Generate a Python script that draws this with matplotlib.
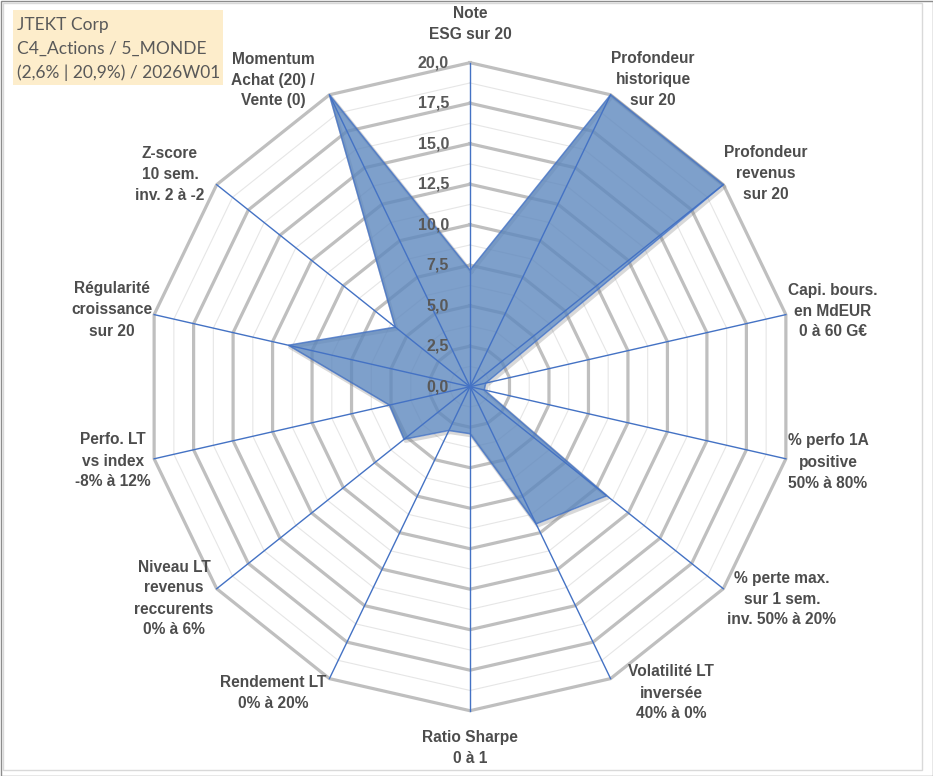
import numpy as np
import matplotlib
matplotlib.use('Agg')
import matplotlib.pyplot as plt
from matplotlib.patches import Polygon, Rectangle

# ---------------- data ----------------
categories = [
    "Note\nESG sur 20",
    "Profondeur\nhistorique\nsur 20",
    "Profondeur\nrevenus\nsur 20",
    "Capi. bours.\nen MdEUR\n0 à 60 G€",
    "% perfo 1A\npositive\n50% à 80%",
    "% perte max.\nsur 1 sem.\ninv. 50% à 20%",
    "Volatilité LT\ninversée\n40% à 0%",
    "Ratio Sharpe\n0 à 1",
    "Rendement LT\n0% à 20%",
    "Niveau LT\nrevenus\nreccurents\n0% à 6%",
    "Perfo. LT\nvs index\n-8% à 12%",
    "Régularité\ncroissance\nsur 20",
    "Z-score\n10 sem.\ninv. 2 à -2",
    "Momentum\nAchat (20) /\nVente (0)",
]
values = [7.2, 20.0, 20.0, 1.0, 0.9, 10.8, 9.4, 2.9, 3.0, 5.2, 5.1, 11.5, 5.9, 20.0]
ticks = [0.0, 2.5, 5.0, 7.5, 10.0, 12.5, 15.0, 17.5, 20.0]
tick_labels = ["0,0", "2,5", "5,0", "7,5", "10,0", "12,5", "15,0", "17,5", "20,0"]
title_lines = ["JTEKT Corp", "C4_Actions / 5_MONDE", "(2,6% | 20,9%) / 2026W01"]

# ---------------- layout (pixels) ----------------
W, H = 933, 776
CX, CY, RPX = 470.0, 386.7, 324.0   # centre and radius of the 20 ring in pixels
RMAX = 20.0
s = RMAX / RPX
# label centres in pixel coords (style/layout only)
label_px = [(470, 24), (653, 79), (766, 173.5), (833, 311), (828, 462), (782, 599),
            (671, 693), (470, 748), (273, 693), (174, 598.5), (113, 461), (112, 310),
            (170, 174), (273, 80)]

fig = plt.figure(figsize=(W / 100, H / 100), dpi=100)
ax = fig.add_axes([0, 0, 1, 1])
ax.set_xlim(-CX * s, (W - CX) * s)
ax.set_ylim(-(H - CY) * s, CY * s)
ax.set_aspect('equal')
ax.axis('off')

n = len(categories)
theta = np.arange(n) * 2 * np.pi / n
sx, cy_ = np.sin(theta), np.cos(theta)

def ring(r):
    xs = np.append(r * sx, r * sx[0])
    ys = np.append(r * cy_, r * cy_[0])
    return xs, ys

# minor rings
for r in np.arange(1.25, RMAX, 2.5):
    xs, ys = ring(r)
    ax.plot(xs, ys, color='#E6E6E6', lw=0.8, zorder=1)
# major rings
for r in ticks[1:]:
    xs, ys = ring(r)
    ax.plot(xs, ys, color='#BFBFBF', lw=2.3, zorder=1.5, solid_joinstyle='miter')

v = np.array(values)
pts = np.column_stack([v * sx, v * cy_])
# soft shadow along the outline
sh = np.vstack([pts, pts[:1]]) + np.array([1.5 * s, -2.0 * s])
ax.plot(sh[:, 0], sh[:, 1], color='#808080', alpha=0.3, lw=2.5, zorder=2)
ax.add_patch(Polygon(pts, closed=True, facecolor='#5E88BE', alpha=0.8,
                     edgecolor='#4472C4', lw=1.1, zorder=2.2))

# spokes
for i in range(n):
    ax.plot([0, RMAX * sx[i]], [0, RMAX * cy_[i]], color='#4472C4', lw=1.0, zorder=3)

# tick labels
for t, tl in zip(ticks, tick_labels):
    ax.text(-21 * s, t, tl, ha='right', va='center', fontsize=11.5, fontweight='bold',
            family='Liberation Sans', color='#595959', zorder=4)

# category labels
for lab, (px, py) in zip(categories, label_px):
    ax.text((px - CX) * s, (CY - py) * s, lab, ha='center', va='center',
            multialignment='center', fontsize=11.2, fontweight='bold',
            family='Liberation Sans', color='#4D4D4D', linespacing=1.5, zorder=4)

# title box
fig.patches.append(Rectangle((13 / W, 1 - 85 / H), 210 / W, 75 / H, transform=fig.transFigure,
                             facecolor='#FDEDCB', edgecolor='none', zorder=0))
for k, line in enumerate(title_lines):
    fig.text(17 / W, 1 - (25 + k * 24) / H, line, ha='left', va='center',
             fontsize=12.5, family='Lato', color='#595959')

# frame
fig.patches.append(Rectangle((3 / W, 1 - 770 / H), 919 / W, 767 / H, transform=fig.transFigure,
                             facecolor='none', edgecolor='#D9D9D9', lw=1.0))
fig.patches.append(Rectangle((0.5 / W, 0.5 / H), (W - 1) / W, (H - 1) / H, transform=fig.transFigure,
                             facecolor='none', edgecolor='#8C8C8C', lw=1.0))

fig.savefig('out.png', dpi=100, facecolor='white')
